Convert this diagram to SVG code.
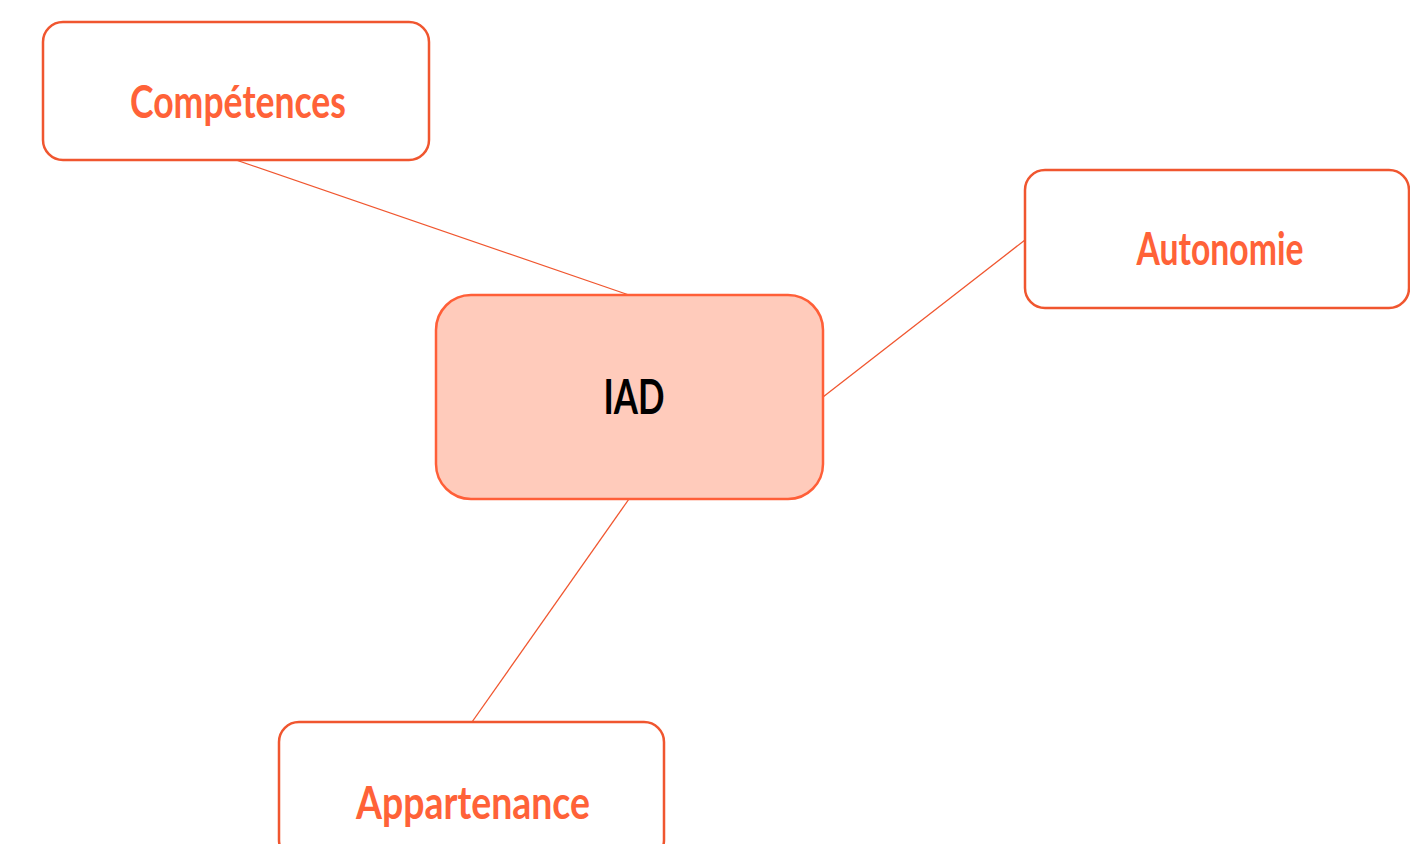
<svg xmlns="http://www.w3.org/2000/svg" width="1410" height="844" viewBox="0 0 1410 844">
<style>
.box{fill:#ffffff;stroke:#f0562f;stroke-width:2.5}
.main{fill:#ffcbbb;stroke:#ff5f38;stroke-width:2.5}
.lbl{font-family:"Lato","Open Sans",sans-serif;font-weight:bold;font-size:46px;fill:#ff6238;text-anchor:middle}
.mlbl{font-family:"Lato","Open Sans",sans-serif;font-weight:bold;font-size:48px;fill:#000000;text-anchor:middle}
.edge{stroke:#f0562f;stroke-width:1.3;fill:none}
</style>
<rect width="1410" height="844" fill="#ffffff"/>
<g id="connectors">
<line class="edge" x1="236" y1="160" x2="629" y2="295"/>
<line class="edge" x1="823" y1="397" x2="1025" y2="240"/>
<line class="edge" x1="629" y1="499" x2="472" y2="722"/>
</g>
<g id="node-competences">
<rect class="box" x="43" y="22" width="386" height="138" rx="20"/>
<text class="lbl" x="238" y="118" textLength="216" lengthAdjust="spacingAndGlyphs">Compétences</text>
</g>
<g id="node-iad">
<rect class="main" x="436" y="295" width="387" height="204" rx="35"/>
<text class="mlbl" x="634" y="414" textLength="61" lengthAdjust="spacingAndGlyphs">IAD</text>
</g>
<g id="node-autonomie">
<rect class="box" x="1025" y="170" width="384" height="138" rx="20"/>
<text class="lbl" x="1220" y="265" textLength="167" lengthAdjust="spacingAndGlyphs">Autonomie</text>
</g>
<g id="node-appartenance">
<rect class="box" x="279" y="722" width="385" height="138" rx="20"/>
<text class="lbl" x="473" y="819" textLength="234" lengthAdjust="spacingAndGlyphs">Appartenance</text>
</g>
</svg>
